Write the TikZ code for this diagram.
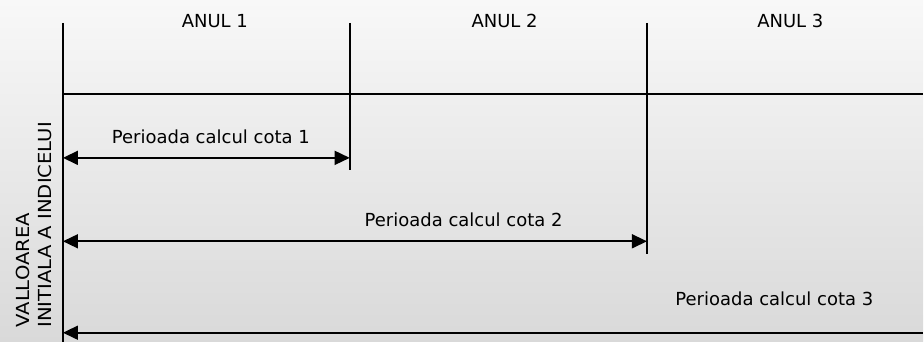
\documentclass[tikz,border=0pt]{standalone}
\usepackage{fontspec}
\setmainfont{DejaVu Sans}
\newfontfamily\latfont[FakeStretch=1.09]{DejaVu Sans}
\usetikzlibrary{arrows.meta}

\definecolor{fondsus}{HTML}{F8F8F8}
\definecolor{fondjos}{HTML}{D9D9D9}

\tikzset{
    linie/.style={line width=1.6pt},
    perioada/.style={line width=1.6pt, {Triangle[length=15pt,width=14pt]}-{Triangle[length=15pt,width=14pt]}},
    perioadadeschisa/.style={line width=1.6pt, {Triangle[length=15pt,width=14pt]}-},
    eticheta/.style={font=\fontsize{18}{22}\selectfont, inner sep=0pt, anchor=base},
}

\begin{document}
\begin{tikzpicture}[x=1pt,y=-1pt]

    \shade[top color=fondsus, bottom color=fondjos] (0,0) rectangle (924,342);

    \coordinate (start) at (63,23);
    \coordinate (startjos) at (63,342);
    \coordinate (an1) at (350,23);
    \coordinate (an1jos) at (350,170);
    \coordinate (an2) at (647.5,23);
    \coordinate (an2jos) at (647.5,254);
    \coordinate (axa) at (63,94);
    \coordinate (axadr) at (924,94);

    \draw[linie] (start) -- (startjos);
    \draw[linie] (an1) -- (an1jos);
    \draw[linie] (an2) -- (an2jos);
    \draw[linie] (axa) -- (axadr);

    \node[eticheta] (anul1) at (215,28) {ANUL 1};
    \node[eticheta] (anul2) at (505,28) {ANUL 2};
    \node[eticheta] (anul3) at (791,28) {ANUL 3};

    \coordinate (p1a) at (63,158);
    \coordinate (p1b) at (350,158);
    \coordinate (p2a) at (63,241.5);
    \coordinate (p2b) at (647.5,241.5);
    \coordinate (p3a) at (63,333);
    \coordinate (p3b) at (924,333);

    \draw[perioada] (p1a) -- (p1b);
    \draw[perioada] (p2a) -- (p2b);
    \draw[perioadadeschisa] (p3a) -- (p3b);

    \node[eticheta] (cota1) at (211,144) {Perioada calcul cota 1};
    \node[eticheta] (cota2) at (464,227) {Perioada calcul cota 2};
    \node[eticheta] (cota3) at (775,306) {Perioada calcul cota 3};

    \node[eticheta, font=\latfont\fontsize{18}{22}\selectfont, rotate=90, align=left, anchor=south west] (valoare) at (52,328) {VALLOAREA\\INITIALA A INDICELUI};

\end{tikzpicture}
\end{document}
